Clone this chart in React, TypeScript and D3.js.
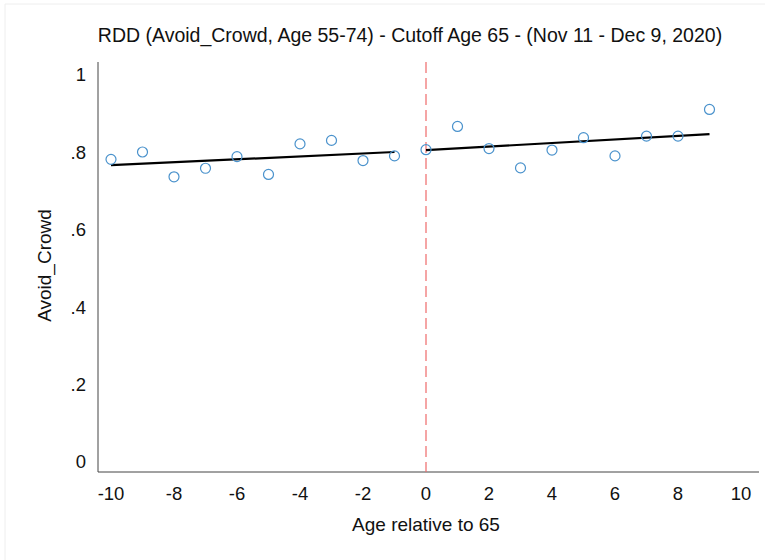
import React from "react";
import * as d3 from "d3";

const TITLE = "RDD (Avoid_Crowd, Age 55-74) - Cutoff Age 65 - (Nov 11 - Dec 9, 2020)";
const X_LABEL = "Age relative to 65";
const Y_LABEL = "Avoid_Crowd";

const ages = [-10, -9, -8, -7, -6, -5, -4, -3, -2, -1, 0, 1, 2, 3, 4, 5, 6, 7, 8, 9];
const avoidCrowd = [
  0.782, 0.801, 0.737, 0.759, 0.789, 0.743, 0.822, 0.831, 0.779, 0.791,
  0.807, 0.867, 0.81, 0.76, 0.806, 0.838, 0.791, 0.842, 0.842, 0.911,
];

const leftFitX = [-10, -1];
const leftFitY = [0.767, 0.801];
const rightFitX = [0, 9];
const rightFitY = [0.806, 0.847];

const xTicks = [-10, -8, -6, -4, -2, 0, 2, 4, 6, 8, 10];
const yTicks = [0, 0.2, 0.4, 0.6, 0.8, 1];
const yTickLabels = ["0", ".2", ".4", ".6", ".8", "1"];

const W = 765;
const H = 560;
const FONT = "'Liberation Sans', Arial, Helvetica, sans-serif";

export default function App() {
  const x = d3.scaleLinear().domain([-10, 10]).range([111, 741]);
  const y = d3.scaleLinear().domain([0, 1]).range([462, 75]);
  const axisLeft = 98;
  const axisBottom = 472;
  const axisTop = 62;
  const axisRight = 759;

  const line = d3
    .line<[number, number]>()
    .x((d) => x(d[0]))
    .y((d) => y(d[1]));

  const leftPts: [number, number][] = leftFitX.map((v, i) => [v, leftFitY[i]]);
  const rightPts: [number, number][] = rightFitX.map((v, i) => [v, rightFitY[i]]);

  return (
    <svg
      width={W}
      height={H}
      style={{ position: "absolute", left: 0, top: 0, background: "#fff" }}
      fontFamily={FONT}
    >
      <rect x={0} y={0} width={W} height={H} fill="#fff" />
      <line x1={5} y1={4} x2={5} y2={H} stroke="#eeeeee" strokeWidth={1} />
      <line x1={5} y1={4} x2={W} y2={4} stroke="#eeeeee" strokeWidth={1} />

      <text x={410} y={42} textAnchor="middle" fontSize={19.5} fill="#111">
        {TITLE}
      </text>

      {/* axes */}
      <line x1={axisLeft} y1={axisTop} x2={axisLeft} y2={axisBottom} stroke="#444" strokeWidth={1} />
      <line x1={axisLeft} y1={axisBottom} x2={axisRight} y2={axisBottom} stroke="#444" strokeWidth={1} />

      {/* cutoff */}
      <line
        x1={x(0)}
        y1={axisTop}
        x2={x(0)}
        y2={axisBottom}
        stroke="#ee6a6a"
        strokeWidth={1.2}
        strokeDasharray="11,5"
      />

      {yTicks.map((t, i) => (
        <text
          key={"y" + i}
          x={86}
          y={y(t)}
          dy="0.35em"
          textAnchor="end"
          fontSize={18.5}
          fill="#111"
        >
          {yTickLabels[i]}
        </text>
      ))}

      {xTicks.map((t) => (
        <text key={"x" + t} x={x(t)} y={500} textAnchor="middle" fontSize={18.5} fill="#111">
          {t}
        </text>
      ))}

      <text x={x(0)} y={531} textAnchor="middle" fontSize={19} fill="#111">
        {X_LABEL}
      </text>
      <text
        transform={`translate(51, ${y(0.5) - 3}) rotate(-90)`}
        textAnchor="middle"
        fontSize={19}
        fill="#111"
      >
        {Y_LABEL}
      </text>

      {/* fit lines */}
      <path d={line(leftPts) || ""} stroke="#000" strokeWidth={2.2} fill="none" />
      <path d={line(rightPts) || ""} stroke="#000" strokeWidth={2.2} fill="none" />

      {/* points */}
      {ages.map((a, i) => (
        <circle
          key={"p" + a}
          cx={x(a)}
          cy={y(avoidCrowd[i])}
          r={5}
          fill="none"
          stroke="#4a92cc"
          strokeWidth={1.2}
        />
      ))}
    </svg>
  );
}
